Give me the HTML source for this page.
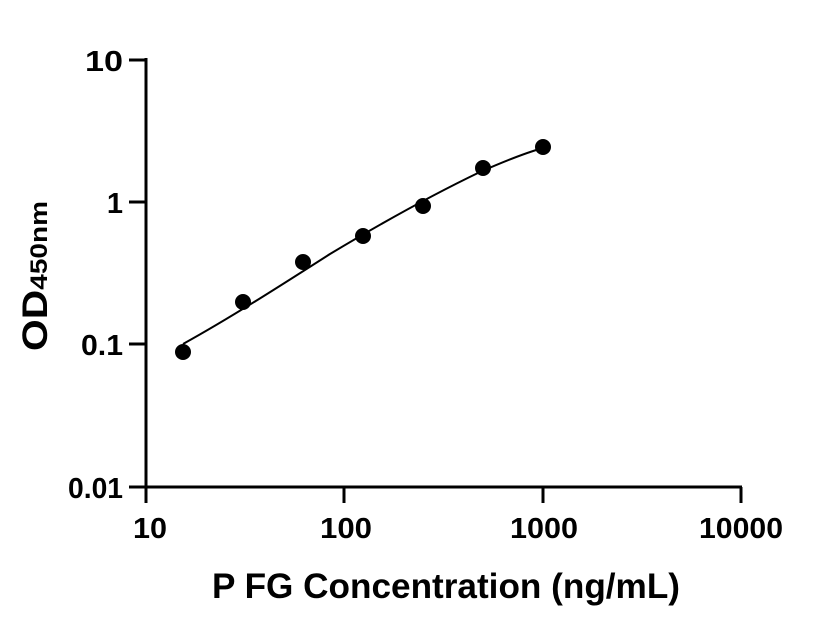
<!DOCTYPE html>
<html><head><style>body{margin:0;background:#fff}svg{display:block}text{font-family:"Liberation Sans",sans-serif;font-weight:bold;fill:#000}</style></head>
<body>
<svg width="816" height="640" viewBox="0 0 816 640">
<g stroke="#000" stroke-width="3" fill="none">
<line x1="146" y1="58" x2="146" y2="503"/>
<line x1="144.5" y1="487" x2="742" y2="487"/>
<line x1="129" y1="60" x2="146" y2="60"/>
<line x1="129" y1="202" x2="146" y2="202"/>
<line x1="129" y1="344" x2="146" y2="344"/>
<line x1="129" y1="487" x2="146" y2="487"/>
<line x1="344" y1="487" x2="344" y2="503"/>
<line x1="543" y1="487" x2="543" y2="503"/>
<line x1="741" y1="487" x2="741" y2="503"/>
</g>
<path d="M183,344 C230,318 280,286 330,254 C380,224 430,196 480,172 C505,161 525,153 543,148" stroke="#000" stroke-width="2" fill="none"/>
<g fill="#000">
<circle cx="183" cy="352" r="8"/><circle cx="243" cy="302" r="8"/><circle cx="303" cy="262" r="8"/><circle cx="363" cy="236" r="8"/><circle cx="423" cy="206" r="8"/><circle cx="483" cy="168" r="8"/><circle cx="543" cy="147" r="8"/>
</g>
<g font-size="29" text-anchor="end">
<text x="123" y="71" textLength="38" lengthAdjust="spacingAndGlyphs">10</text><text x="123" y="213">1</text><text x="123" y="355" textLength="42" lengthAdjust="spacingAndGlyphs">0.1</text><text x="123" y="498" textLength="55" lengthAdjust="spacingAndGlyphs">0.01</text>
</g>
<g font-size="29" text-anchor="middle">
<text x="150" y="538" textLength="34" lengthAdjust="spacingAndGlyphs">10</text><text x="346" y="538" textLength="52" lengthAdjust="spacingAndGlyphs">100</text><text x="544" y="538" textLength="68" lengthAdjust="spacingAndGlyphs">1000</text><text x="741" y="538" textLength="84" lengthAdjust="spacingAndGlyphs">10000</text>
</g>
<text x="446" y="598" font-size="35" text-anchor="middle" textLength="468" lengthAdjust="spacingAndGlyphs">P FG Concentration (ng/mL)</text>
<text transform="translate(47,276) rotate(-90)" font-size="35" text-anchor="middle" textLength="150" lengthAdjust="spacingAndGlyphs">OD<tspan font-size="24">450nm</tspan></text>
</svg>
</body></html>
